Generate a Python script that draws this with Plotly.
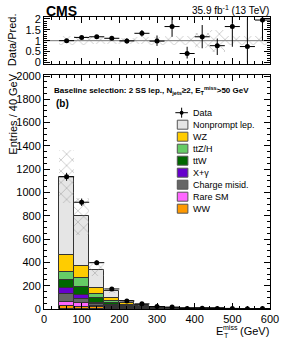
import numpy as np
import plotly.graph_objects as go

# ---- data ----
bin_edges = list(range(40, 601, 40))
nonprompt = [675, 432, 159, 63, 22, 5, 3, 2, 1.5, 1, 1, 0.5, 0.5, 0.3]
wz = [143, 100, 49, 23, 11, 6, 4, 2, 1.5, 1, 1, 0.6, 0.5, 0.4]
ttzh = [72, 78, 37, 20, 10, 6, 4, 2, 1.5, 1, 1, 0.6, 0.5, 0.4]
ttw = [67, 66, 43, 17, 10, 6, 4, 2, 1.5, 1, 1, 0.6, 0.5, 0.4]
xgamma = [51, 35, 9, 6, 3, 2, 1, 0.5, 0.5, 0.3, 0.3, 0.2, 0.2, 0.1]
chargemisid = [64, 32, 11, 6, 4, 2, 1, 0.5, 0.5, 0.2, 0.2, 0.2, 0.1, 0.1]
raresm = [37, 34, 14, 8, 4, 3, 2, 0.5, 0.5, 0.3, 0.3, 0.2, 0.2, 0.2]
ww = [26, 20, 15, 12, 6, 3, 2, 0.5, 0.5, 0.2, 0.2, 0.1, 0.2, 0.1]

ratio = [1.00, 1.15, 1.18, 1.11, 0.99, 1.34, 0.98, 1.65, 0.41, 1.18, 0.77, 1.65, 0.73, 1.95]
ratio_err_up = [0.03, 0.04, 0.06, 0.09, 0.12, 0.15, 0.26, 0.45, 0.31, 0.54, 0.33, 0.45, 1.3, 0.9]
ratio_err_dn = [0.03, 0.04, 0.06, 0.09, 0.12, 0.15, 0.22, 0.47, 0.23, 0.53, 0.43, 0.93, 0.73, 0.95]
rel_unc = [0.20, 0.20, 0.15, 0.14, 0.13, 0.15, 0.18, 0.20, 0.20, 0.35, 0.50, 0.20, 0.20, 0.20]

# stack order bottom -> top
stack = [
    ("WW", ww, "#ff9900"),
    ("Rare SM", raresm, "#ff66ff"),
    ("Charge misid.", chargemisid, "#666666"),
    ("X+γ", xgamma, "#6600cc"),
    ("ttW", ttw, "#006600"),
    ("ttZ/H", ttzh, "#66cc66"),
    ("WZ", wz, "#ffcc00"),
    ("Nonprompt lep.", nonprompt, "#e5e5e5"),
]
legend_order = ["Nonprompt lep.", "WZ", "ttZ/H", "ttW", "X+γ", "Charge misid.", "Rare SM", "WW"]

edges = np.array(bin_edges, dtype=float)
centers = 0.5 * (edges[:-1] + edges[1:])
widths = np.diff(edges)

fig = go.Figure()
base = np.zeros(len(centers))
for name, vals, col in stack:
    v = np.array(vals, dtype=float)
    fig.add_trace(go.Bar(x=centers, y=v, base=base.copy(), width=widths, name=name,
                         marker=dict(color=col, line=dict(color="#333333", width=1)),
                         xaxis="x", yaxis="y", showlegend=False))
    base = base + v
pred = base

hatch = dict(shape="x", fgcolor="#8c8c8c", size=8, solidity=0.2)
unc = pred * np.array(rel_unc)
fig.add_trace(go.Bar(x=centers, y=2 * unc, base=pred - unc, width=widths,
                     marker=dict(color="rgba(0,0,0,0)", line=dict(width=0), pattern=hatch),
                     xaxis="x", yaxis="y", showlegend=False))

r = np.array(ratio)
data = r * pred
fig.add_trace(go.Scatter(x=centers, y=data, mode="markers",
                         marker=dict(color="black", size=5),
                         error_x=dict(type="data", array=widths / 2, color="black", thickness=1, width=0),
                         error_y=dict(type="data", array=np.array(ratio_err_up) * pred,
                                      arrayminus=np.array(ratio_err_dn) * pred,
                                      color="black", thickness=1, width=0),
                         xaxis="x", yaxis="y", showlegend=False))

# ratio panel
ru = np.array(rel_unc)
fig.add_trace(go.Bar(x=centers, y=2 * ru, base=1 - ru, width=widths,
                     marker=dict(color="rgba(0,0,0,0)", line=dict(width=0), pattern=hatch),
                     xaxis="x2", yaxis="y2", showlegend=False))
fig.add_trace(go.Scatter(x=centers, y=r, mode="markers",
                         marker=dict(color="black", size=5),
                         error_x=dict(type="data", array=widths / 2, color="black", thickness=1, width=0),
                         error_y=dict(type="data", array=ratio_err_up, arrayminus=ratio_err_dn,
                                      color="black", thickness=1, width=0),
                         xaxis="x2", yaxis="y2", showlegend=False))

# ---- layout ----
W, H = 291, 339
ML, MR, MT, MB = 44, 13, 17, 30
PW, PH = W - ML - MR, H - MT - MB


def px(xp):
    return (xp - ML) / PW


def py(yp):
    return (H - MB - yp) / PH


font = "Liberation Sans, Arial, sans-serif"
axcommon = dict(showline=True, linecolor="black", linewidth=1, mirror="allticks",
                ticks="inside", ticklen=6, tickcolor="black", showgrid=False, zeroline=False,
                tickfont=dict(size=11, color="black", family=font))

fig.update_layout(
    width=W, height=H, margin=dict(l=ML, r=MR, t=MT, b=MB),
    paper_bgcolor="white", plot_bgcolor="white", barmode="overlay", bargap=0,
    font=dict(family=font, color="black"),
    xaxis=dict(range=[0, 600], domain=[0, 1], anchor="y", dtick=100, tick0=0,
               minor=dict(ticks="inside", ticklen=3, dtick=20, tickcolor="black"), **axcommon),
    yaxis=dict(range=[0, 2009], domain=[0, py(75)], anchor="x", dtick=200,
               minor=dict(ticks="inside", ticklen=3, dtick=50, tickcolor="black"), **axcommon),
    xaxis2=dict(range=[0, 600], domain=[0, 1], anchor="y2", dtick=100, showticklabels=False,
                minor=dict(ticks="inside", ticklen=3, dtick=20, tickcolor="black"), **axcommon),
    yaxis2=dict(range=[-0.05, 2.09], domain=[py(63.5), 1], anchor="x2", tickvals=[0, 0.5, 1, 1.5, 2],
                ticktext=["0", "0.5", "1", "1.5", "2"],
                minor=dict(ticks="inside", ticklen=3, dtick=0.1, tickcolor="black"), **axcommon),
)

shapes = [dict(type="line", xref="x2", yref="y2", x0=0, x1=600, y0=1, y1=1,
               line=dict(color="#777777", width=1), layer="below")]
ann = []


def text(t, x, y, size, xa="left", ya="middle", angle=0):
    ann.append(dict(text=t, x=px(x), y=py(y), xref="paper", yref="paper", xanchor=xa, yanchor=ya,
                    textangle=angle, showarrow=False, font=dict(size=size, family=font)))


text("<b>CMS</b>", 44, 1, 14, ya="top")
text("35.9 fb<sup>-1</sup> (13 TeV)", 279, 2, 10, xa="right", ya="top")
text("Data/Pred.", 11, 40, 11, xa="center", angle=-90)
text("Entries / 40 GeV", 11, 72, 11, xa="center", ya="top", angle=-90)
# x-axis title with stacked sub/superscript: E_T^miss (GeV)
text("(GeV)", 279, 331, 11, xa="right")
text("E", 220, 331, 11)
text("miss", 227, 327.5, 7)
text("T", 228, 335, 7)
text("<b>Baseline selection: 2 SS lep., N<sub>jets</sub>≥2, E<sub>T</sub><sup>miss</sup>>50 GeV</b>", 52, 90, 8)
text("<b>(b)</b>", 54, 104, 10)

# manual legend
row0 = 112.7
dy = 12.0
shapes.append(dict(type="line", xref="paper", yref="paper", x0=px(180), x1=px(193), y0=py(row0), y1=py(row0),
                   line=dict(color="black", width=1)))
shapes.append(dict(type="line", xref="paper", yref="paper", x0=px(186.5), x1=px(186.5), y0=py(row0 - 5),
                   y1=py(row0 + 5), line=dict(color="black", width=1)))
shapes.append(dict(type="circle", xref="paper", yref="paper", x0=px(184.5), x1=px(188.5), y0=py(row0 - 2),
                   y1=py(row0 + 2), fillcolor="black", line=dict(color="black", width=0)))
text("Data", 196, row0, 9)
colmap = {n: c for n, _, c in stack}
for i, lab in enumerate(legend_order):
    yc = row0 + dy * (i + 1)
    shapes.append(dict(type="rect", xref="paper", yref="paper", x0=px(182), x1=px(193),
                       y0=py(yc - 4.5), y1=py(yc + 4.5), fillcolor=colmap[lab],
                       line=dict(color="#555555", width=1)))
    text(lab, 196, yc, 9)

fig.update_layout(shapes=shapes, annotations=ann)
fig.write_html("out.html", config={"displayModeBar": False},
               post_script="document.body.style.margin='0';")
